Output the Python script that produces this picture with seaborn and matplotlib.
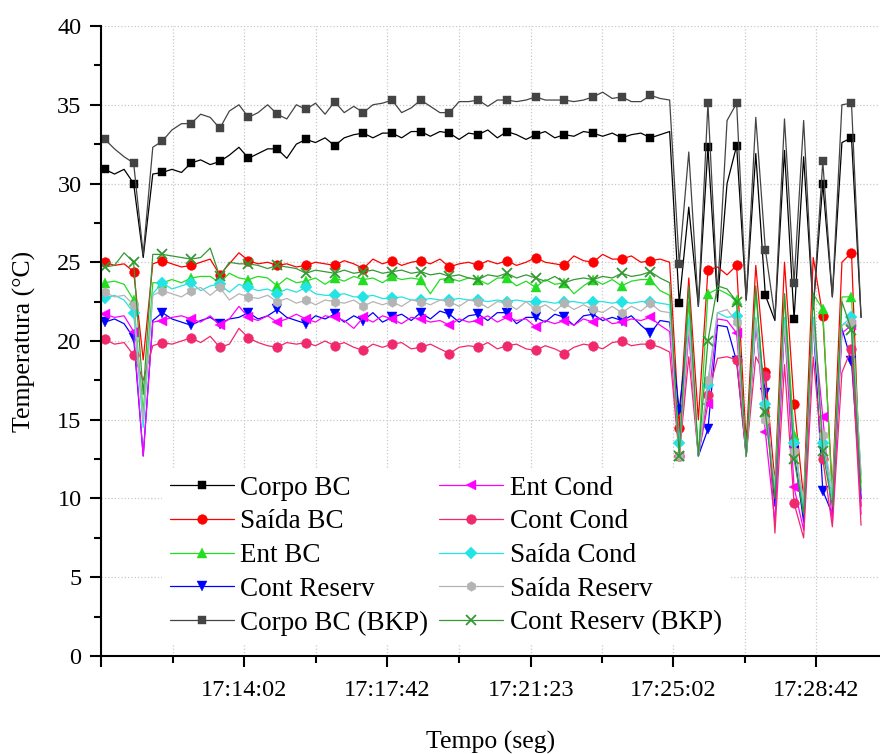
import pandas as pd
import seaborn as sns
import matplotlib.pyplot as plt
from matplotlib.ticker import MultipleLocator

# --- data (one sample every ~14.7 s) ---
dia = '2021-01-01 '
tempo = pd.date_range(dia + '17:10:28', periods=80, freq='14720ms')

corpo_bc = [30.9, 30.6, 30.9, 30.0, 25.3, 30.6, 30.7, 30.9, 30.7, 31.3,
            31.5, 31.2, 31.4, 31.8, 32.3, 31.6, 31.9, 32.2, 32.2, 31.6,
            32.5, 32.8, 32.6, 32.9, 32.4, 32.9, 33.1, 33.2, 32.9, 33.2,
            33.2, 32.9, 33.3, 33.3, 33.0, 33.3, 33.2, 32.8, 33.2, 33.1,
            33.4, 32.9, 33.3, 33.1, 32.8, 33.1, 33.3, 32.9, 33.1, 33.0,
            33.3, 33.2, 33.0, 33.2, 32.9, 33.1, 33.2, 32.9, 33.1, 33.3,
            22.4, 28.5, 22.2, 32.3, 22.5, 30.0, 32.4, 22.6, 31.9, 22.9,
            21.3, 32.1, 21.4, 31.7, 22.0, 30.0, 22.8, 32.6, 32.9, 21.5]

saida_bc = [25.0, 24.8, 24.9, 24.4, 18.8, 24.9, 25.1, 24.9, 24.7, 24.8,
            25.0, 25.2, 24.2, 24.9, 25.6, 25.1, 24.9, 25.0, 24.8, 24.9,
            24.7, 24.8, 25.0, 24.9, 24.8, 25.1, 24.9, 24.6, 25.2, 24.9,
            25.1, 24.8, 25.0, 25.1, 24.9, 25.2, 24.7, 24.9, 25.0, 24.8,
            25.1, 24.9, 25.1, 24.8, 25.0, 25.3, 25.0, 24.9, 24.8, 25.4,
            25.1, 25.0, 25.5, 25.2, 25.2, 25.4, 25.0, 25.1, 25.2, 25.0,
            14.5, 24.0, 15.0, 24.5, 24.7, 24.2, 24.8, 13.5, 24.8, 18.0,
            11.0, 25.0, 16.0, 10.0, 25.3, 21.6, 10.5, 25.0, 25.6, 9.5]

ent_bc = [23.7, 23.8, 23.6, 22.6, 15.5, 23.7, 23.7, 23.9, 23.7, 24.0,
          24.1, 24.1, 23.7, 24.3, 24.0, 23.9, 24.1, 24.0, 23.5, 24.0,
          23.7, 23.8, 24.0, 23.6, 24.0, 23.8, 24.1, 23.9, 24.0, 23.7,
          24.1, 23.9, 24.0, 23.9, 23.0, 23.9, 24.0, 23.8, 24.0, 23.9,
          23.6, 24.0, 24.0, 23.5, 23.8, 23.4, 23.9, 23.6, 23.7, 23.0,
          23.5, 23.9, 23.6, 23.9, 23.5, 23.8, 23.9, 23.9, 23.2, 22.9,
          12.7, 22.5, 12.7, 23.0, 23.3, 23.0, 22.6, 12.7, 23.2, 15.5,
          10.5, 23.0, 14.0, 9.0, 23.0, 22.0, 10.0, 22.8, 22.8, 11.0]

cont_reserv = [21.2, 21.4, 21.1, 20.2, 12.7, 21.3, 21.8, 21.4, 21.2, 21.0,
               21.3, 21.5, 21.1, 21.4, 21.5, 21.8, 21.4, 21.6, 22.0, 21.5,
               21.3, 21.1, 21.6, 21.4, 21.7, 21.2, 21.6, 21.3, 21.8, 21.2,
               21.5, 21.7, 21.3, 21.8, 21.4, 21.9, 21.7, 21.2, 21.6, 21.7,
               21.3, 21.8, 21.8, 21.1, 21.5, 21.5, 21.2, 21.7, 21.5, 21.0,
               21.6, 21.7, 21.3, 21.5, 21.3, 21.6, 21.0, 20.5, 21.3, 21.2,
               15.6, 21.0, 12.7, 14.4, 21.0, 20.9, 18.7, 12.7, 21.0, 16.7,
               9.5, 21.0, 13.0, 8.5, 21.3, 10.5, 9.0, 20.8, 18.7, 10.0]

corpo_bc_bkp = [32.8, 32.2, 31.7, 31.3, 25.5, 32.3, 32.7, 33.4, 33.8, 33.8,
                34.4, 34.2, 33.5, 34.6, 35.0, 34.2, 34.5, 35.0, 34.4, 34.1,
                35.0, 34.7, 35.1, 34.4, 35.2, 34.5, 34.9, 34.5, 35.0, 35.1,
                35.3, 34.5, 34.8, 35.3, 34.9, 34.5, 34.5, 35.2, 35.2, 35.3,
                34.9, 35.3, 35.3, 35.2, 35.3, 35.5, 35.3, 35.3, 35.3, 35.2,
                35.3, 35.5, 35.8, 35.4, 35.5, 35.2, 35.2, 35.6, 35.4, 35.3,
                24.9, 32.0, 22.2, 35.1, 23.0, 34.0, 35.1, 22.6, 34.2, 25.8,
                21.5, 34.1, 23.7, 34.0, 22.0, 31.4, 22.8, 35.0, 35.1, 21.5]

ent_cond = [21.7, 21.5, 21.6, 20.6, 12.7, 21.2, 21.3, 21.5, 21.6, 21.4,
            21.2, 21.6, 21.0, 21.4, 22.2, 21.5, 21.3, 21.6, 21.2, 21.4,
            21.7, 21.4, 21.2, 21.6, 21.5, 21.3, 20.8, 21.5, 21.2, 21.6,
            21.4, 21.1, 21.5, 21.4, 21.2, 21.3, 21.0, 21.4, 21.2, 21.3,
            21.6, 21.2, 21.5, 21.3, 21.4, 20.9, 21.3, 21.1, 21.3, 21.0,
            21.4, 21.2, 21.5, 21.1, 21.2, 21.4, 21.3, 21.5, 21.0, 20.6,
            12.7, 20.5, 12.7, 16.0, 21.4, 21.3, 20.5, 12.7, 21.2, 14.2,
            8.5, 21.0, 10.7, 8.0, 21.5, 15.2, 8.5, 20.5, 21.0, 9.0]

cont_cond = [20.1, 19.8, 19.9, 19.1, 17.5, 19.7, 19.9, 19.8, 20.0, 20.2,
             19.9, 20.3, 19.6, 19.8, 20.8, 20.2, 19.9, 19.7, 19.6, 19.9,
             19.8, 19.9, 19.7, 20.0, 19.7, 19.9, 19.6, 19.4, 19.8, 19.6,
             19.8, 19.9, 19.5, 19.6, 19.8, 19.5, 19.2, 19.6, 19.7, 19.6,
             19.9, 19.5, 19.7, 19.8, 19.5, 19.4, 19.7, 19.5, 19.2, 19.6,
             19.8, 19.7, 19.5, 19.9, 20.0, 19.7, 19.8, 19.8, 19.6, 19.3,
             12.7, 19.0, 12.7, 16.6, 18.9, 19.0, 18.8, 12.7, 19.0, 17.8,
             7.8, 18.5, 9.7, 7.5, 19.0, 12.5, 8.2, 18.0, 19.5, 8.3]

saida_cond = [22.7, 22.9, 22.6, 21.8, 14.5, 23.0, 23.7, 23.3, 23.5, 23.7,
              23.2, 23.5, 23.6, 23.1, 23.6, 23.4, 23.2, 23.3, 23.0, 23.3,
              23.1, 23.4, 23.0, 22.9, 22.9, 23.0, 22.8, 22.8, 22.9, 22.7,
              22.7, 22.8, 22.6, 22.6, 22.7, 22.6, 22.6, 22.7, 22.6, 22.6,
              22.5, 22.6, 22.5, 22.6, 22.5, 22.5, 22.5, 22.4, 22.5, 22.5,
              22.4, 22.5, 22.5, 22.4, 22.5, 22.4, 22.5, 22.5, 22.4, 22.3,
              13.5, 21.5, 12.7, 17.2, 21.8, 21.5, 21.6, 12.7, 21.5, 16.0,
              10.5, 21.5, 13.5, 9.5, 21.5, 13.5, 10.0, 21.0, 21.5, 11.5]

saida_reserv = [23.1, 22.8, 22.9, 22.3, 15.0, 22.9, 23.2, 23.0, 22.8, 23.2,
                23.4, 22.9, 23.4, 22.6, 23.0, 22.8, 22.7, 22.9, 22.5, 22.7,
                22.4, 22.6, 22.3, 22.6, 22.5, 22.4, 22.6, 22.2, 22.5, 22.3,
                22.5, 22.2, 22.6, 22.5, 22.3, 22.6, 22.5, 22.2, 22.6, 22.5,
                22.1, 22.5, 22.4, 22.0, 22.5, 22.0, 22.3, 21.9, 22.4, 22.0,
                22.3, 22.0, 21.8, 22.2, 21.8, 22.2, 21.9, 22.4, 21.9, 21.8,
                12.7, 21.0, 12.7, 17.5, 21.8, 22.0, 21.2, 12.7, 21.3, 15.0,
                11.0, 21.0, 13.0, 10.0, 21.0, 14.0, 10.5, 21.0, 21.2, 11.5]

cont_reserv_bkp = [24.7, 24.8, 25.6, 25.0, 16.6, 25.5, 25.5, 25.4, 25.3, 25.2,
                   25.3, 25.9, 24.1, 25.0, 24.9, 24.9, 24.8, 24.6, 24.8, 24.7,
                   24.6, 24.3, 24.5, 24.4, 24.3, 24.5, 24.3, 24.4, 24.5, 24.3,
                   24.4, 24.5, 24.3, 24.4, 24.2, 24.3, 24.1, 24.2, 24.0, 23.9,
                   24.2, 24.1, 24.3, 24.0, 24.2, 24.0, 23.8, 24.1, 23.7, 23.9,
                   24.0, 23.9, 24.1, 24.0, 24.3, 24.1, 24.2, 24.4, 24.0, 23.7,
                   12.7, 23.5, 12.7, 20.0, 23.5, 23.3, 22.5, 12.7, 23.5, 15.5,
                   10.0, 23.0, 12.5, 9.0, 23.0, 13.0, 9.5, 22.5, 20.7, 10.5]

# x axis ticks
tick_horas = ['17:10:22', '17:14:02', '17:17:42', '17:21:23', '17:25:02', '17:28:42']
tick_rotulos = ['', '17:14:02', '17:17:42', '17:21:23', '17:25:02', '17:28:42']
minor_horas = ['17:12:12', '17:15:52', '17:19:32', '17:23:12', '17:26:52']

# legend order (column by column) = drawing order
series = [
    ('Corpo BC', corpo_bc, '#000000', 's'),
    ('Saída BC', saida_bc, '#ff0000', 'o'),
    ('Ent BC', ent_bc, '#22dd22', '^'),
    ('Cont Reserv', cont_reserv, '#0000ff', 'v'),
    ('Corpo BC (BKP)', corpo_bc_bkp, '#444444', 's'),
    ('Ent Cond', ent_cond, '#ff00ff', '<'),
    ('Cont Cond', cont_cond, '#f0286e', 'o'),
    ('Saída Cond', saida_cond, '#22e4e4', 'D'),
    ('Saída Reserv', saida_reserv, '#b4b4b4', 'h'),
    ('Cont Reserv (BKP)', cont_reserv_bkp, '#339933', 'x'),
]

sns.set_theme(style='ticks')
plt.rcParams['font.family'] = ['Liberation Serif', 'DejaVu Serif']
plt.rcParams['text.color'] = 'black'
plt.rcParams['axes.labelcolor'] = 'black'

fig = plt.figure(figsize=(8.8, 7.54), dpi=100)
ax = fig.add_axes([0.1148, 0.130, 0.8852, 0.8355])

for nome, valores, cor, marca in series:
    tamanho = 6.0 if marca in ('s', 'D') else 7.0
    sns.lineplot(x=tempo, y=valores, ax=ax, color=cor, label=nome,
                 estimator=None, linewidth=0.9, marker=marca, markevery=3,
                 markersize=tamanho, markeredgecolor=cor,
                 markeredgewidth=1.3 if marca == 'x' else 0.3)

ax.set_xlim(pd.Timestamp(dia + '17:10:22'), pd.Timestamp(dia + '17:30:20'))
ax.set_ylim(0, 40)
ax.set_xticks([pd.Timestamp(dia + h) for h in tick_horas])
ax.set_xticklabels(tick_rotulos)
ax.set_xticks([pd.Timestamp(dia + h) for h in minor_horas], minor=True)
ax.set_yticks(range(0, 41, 5))
ax.yaxis.set_minor_locator(MultipleLocator(2.5))

ax.set_axisbelow(True)
ax.grid(True, which='major', axis='y', linestyle=':', color='#c8c8c8', linewidth=0.9)
ax.grid(True, which='both', axis='x', linestyle=':', color='#c8c8c8', linewidth=0.9)

for lado in ('top', 'right'):
    ax.spines[lado].set_visible(False)
for lado in ('left', 'bottom'):
    ax.spines[lado].set_linewidth(1.5)
    ax.spines[lado].set_color('black')

ax.tick_params(axis='both', which='major', direction='out', length=8, width=1.5,
               labelsize=17.5, colors='black', pad=6)
ax.tick_params(axis='x', which='major', pad=9)
ax.tick_params(axis='both', which='minor', direction='out', length=5, width=1.5,
               colors='black')

ax.set_xlabel('Tempo (seg)', fontsize=18.5, labelpad=22)
ax.set_ylabel('Temperatura (°C)', fontsize=18.5, labelpad=15)

handles = ax.get_lines()[:len(series)]
leg = ax.legend(handles, [s[0] for s in series], ncol=2, loc='upper left',
                bbox_to_anchor=(0.078, 0.299), fontsize=19.5, frameon=True,
                facecolor='white', edgecolor='none', framealpha=1,
                borderpad=0.3, borderaxespad=0, handlelength=2.35,
                handletextpad=0.25, columnspacing=0.4, labelspacing=0.32)
for texto in leg.get_texts():
    texto.set_color('black')

fig.savefig('out.png', dpi=100)
